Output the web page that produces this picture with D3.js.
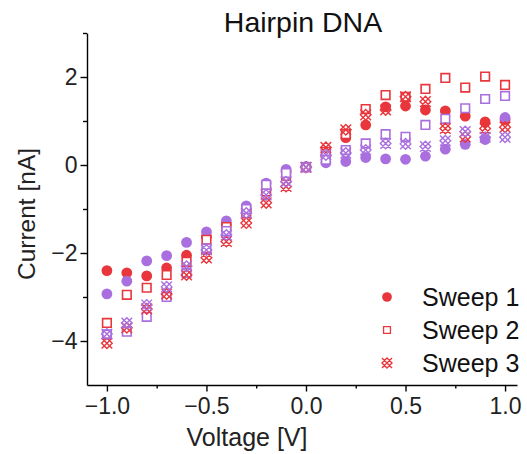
<!DOCTYPE html>
<html>
<head>
<meta charset="utf-8">
<script src="https://cdn.jsdelivr.net/npm/d3@7"></script>
<style>
  body { margin: 0; background: #fff; }
  svg { font-family: "Liberation Sans", Arial, sans-serif; }
</style>
</head>
<body>
<svg id="chart" width="527" height="454"></svg>
<script>
// Voltage steps of the sweep
var voltage = [-1.0, -0.9, -0.8, -0.7, -0.6, -0.5, -0.4, -0.3, -0.2, -0.1, 0.0,
               0.1, 0.2, 0.3, 0.4, 0.5, 0.6, 0.7, 0.8, 0.9, 1.0];

// Currents [nA], red and purple runs of each sweep
var sweep1Red    = [-2.40, -2.45, -2.52, -2.34, -2.05, -1.63, -1.36, -1.02, -0.55, -0.15, -0.05,
                    0.20, 0.62, 0.91, 1.32, 1.34, 1.25, 1.23, 1.11, 0.98, 1.03];
var sweep1Purple = [-2.93, -2.64, -2.18, -2.06, -1.76, -1.52, -1.27, -0.93, -0.41, -0.10, -0.03,
                    0.05, 0.08, 0.17, 0.14, 0.13, 0.20, 0.36, 0.47, 0.58, 1.08];
var sweep2Red    = [-3.59, -2.95, -2.79, -2.50, -2.20, -1.70, -1.41, -1.10, -0.60, -0.25, -0.05,
                    0.30, 0.70, 1.27, 1.59, 1.55, 1.73, 1.98, 1.76, 2.01, 1.82];
var sweep2Purple = [-3.85, -3.79, -3.45, -3.00, -2.45, -1.90, -1.50, -1.00, -0.45, -0.18, -0.05,
                    0.12, 0.34, 0.49, 0.70, 0.64, 0.91, 1.05, 1.29, 1.50, 1.57];
var sweep3Red    = [-4.05, -3.70, -3.27, -2.93, -2.50, -2.11, -1.74, -1.32, -0.86, -0.49, -0.05,
                    0.40, 0.80, 1.14, 1.25, 1.55, 1.44, 0.83, 0.64, 0.83, 0.86];
var sweep3Purple = [-3.84, -3.59, -3.18, -2.77, -2.30, -1.93, -1.59, -1.09, -0.68, -0.38, -0.05,
                    0.23, 0.27, 0.34, 0.49, 0.48, 0.42, 0.55, 0.76, 0.63, 0.63];

var xTicks = [-1.0, -0.5, 0.0, 0.5, 1.0];
var yTicks = [-4, -2, 0, 2];
var legendLabels = ["Sweep 1", "Sweep 2", "Sweep 3"];

//Colours
var red = "#e8363c";
var purple = "#a96fdf";

var svg = d3.select("#chart");

var xScale = d3.scaleLinear().domain([-1.1, 1.06]).range([87, 517]);
var yScale = d3.scaleLinear().domain([-5, 3]).range([385, 33]);

// Marker paths
var circlePath = d3.symbol().type(d3.symbolCircle).size(Math.PI * 5.4 * 5.4)();
var squarePath = "M-4.3,-4.3H4.3V4.3H-4.3Z";
var crossPath = "M-5.3,-5.3L5.3,5.3M-5.3,5.3L5.3,-5.3M-5.3,0L0,5.3L5.3,0L0,-5.3Z";

function drawMarkers(values, colour, shape) {
    var g = svg.append("g");
    var pts = g.selectAll("path")
        .data(voltage.map(function (v, i) { return { v: v, c: values[i] }; }))
        .enter()
        .append("path")
        .attr("transform", function (d) { return "translate(" + xScale(d.v) + "," + yScale(d.c) + ")"; });
    if (shape === "circle") {
        pts.attr("d", circlePath).attr("fill", colour);
    } else if (shape === "square") {
        pts.attr("d", squarePath).attr("fill", "#fff").attr("stroke", colour).attr("stroke-width", 1.6);
    } else {
        pts.attr("d", crossPath).attr("fill", "none").attr("stroke", colour).attr("stroke-width", 1.4);
    }
}

drawMarkers(sweep1Red, red, "circle");
drawMarkers(sweep1Purple, purple, "circle");
drawMarkers(sweep2Red, red, "square");
drawMarkers(sweep2Purple, purple, "square");
drawMarkers(sweep3Red, red, "cross");
drawMarkers(sweep3Purple, purple, "cross");

// Axes
var fmtX = function (d) { return d3.format(".1f")(d).replace("-", "\u2212"); };
var fmtY = function (d) { return String(d).replace("-", "\u2212"); };

// minor ticks
svg.append("g")
    .attr("transform", "translate(0,385)")
    .call(d3.axisBottom(xScale).tickValues([-0.75, -0.25, 0.25, 0.75]).tickSize(3.5).tickFormat(""))
    .call(function (g) { g.select(".domain").remove(); });
svg.append("g")
    .attr("transform", "translate(87,0)")
    .call(d3.axisLeft(yScale).tickValues([-3, -1, 1, 3]).tickSize(4).tickFormat(""))
    .call(function (g) { g.select(".domain").remove(); });

var xAxis = svg.append("g")
    .attr("transform", "translate(0,385)")
    .call(d3.axisBottom(xScale).tickValues(xTicks).tickSize(6.5).tickSizeOuter(0).tickPadding(6).tickFormat(fmtX));
xAxis.selectAll("text").attr("font-size", 23).attr("fill", "#222").style("font-family", "Liberation Sans, Arial, sans-serif");

var yAxis = svg.append("g")
    .attr("transform", "translate(87,0)")
    .call(d3.axisLeft(yScale).tickValues(yTicks).tickSize(6.5).tickSizeOuter(0).tickPadding(3).tickFormat(fmtY));
yAxis.selectAll("text").attr("font-size", 23).attr("fill", "#222").style("font-family", "Liberation Sans, Arial, sans-serif");

svg.selectAll(".domain, .tick line").attr("stroke", "#000").attr("stroke-width", 1.4);

// Title
svg.append("text")
    .attr("x", 303)
    .attr("y", 32)
    .attr("text-anchor", "middle")
    .attr("font-size", 28.5)
    .attr("fill", "#111")
    .text("Hairpin DNA");

// Add x axis label
svg.append("text")
    .attr("x", 247)
    .attr("y", 446)
    .attr("text-anchor", "middle")
    .attr("font-size", 25)
    .attr("fill", "#222")
    .text("Voltage [V]");

// Add y axis label
svg.append("text")
    .attr("transform", "translate(35,214) rotate(-90)")
    .attr("text-anchor", "middle")
    .attr("font-size", 24.5)
    .attr("fill", "#222")
    .text("Current [nA]");

// Legend
var legend = svg.append("g");
var legendShapes = [
    { d: circlePath, fill: red, stroke: "none", sw: 0, k: 0.9 },
    { d: squarePath, fill: "#fff", stroke: red, sw: 1.6, k: 0.8 },
    { d: crossPath, fill: "none", stroke: red, sw: 1.4, k: 0.95 }
];
legend.selectAll("path")
    .data(legendShapes)
    .enter()
    .append("path")
    .attr("transform", function (d, i) { return "translate(387," + (297 + i * 33) + ") scale(" + d.k + ")"; })
    .attr("d", function (d) { return d.d; })
    .attr("fill", function (d) { return d.fill; })
    .attr("stroke", function (d) { return d.stroke; })
    .attr("stroke-width", function (d) { return d.sw; });

legend.selectAll("text")
    .data(legendLabels)
    .enter()
    .append("text")
    .attr("x", 422)
    .attr("y", function (d, i) { return 306 + i * 33; })
    .attr("font-size", 25)
    .attr("fill", "#111")
    .text(function (d) { return d; });
</script>
</body>
</html>
